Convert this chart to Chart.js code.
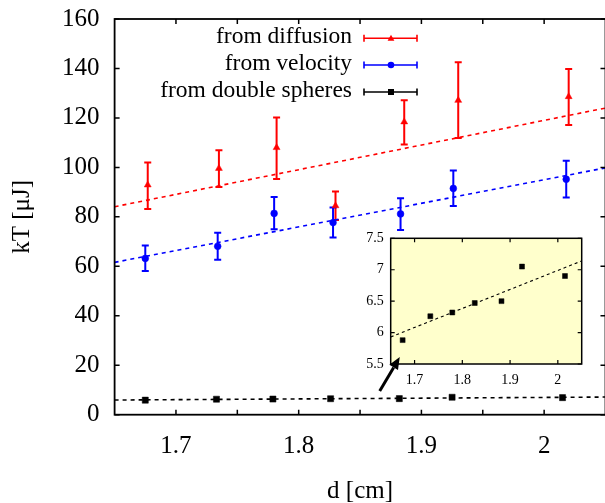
<!DOCTYPE html>
<html>
<head>
<meta charset="utf-8">
<script src="https://cdn.jsdelivr.net/npm/chart.js@4.4.0/dist/chart.umd.min.js"></script>
<style>
html, body { margin: 0; padding: 0; background: #fff; overflow: hidden; }
#wrap { position: relative; width: 605px; height: 503px; overflow: hidden; }
#main { position: absolute; left: 0; top: 0; }
#inset { position: absolute; left: 350px; top: 228px; }
</style>
</head>
<body>
<div id="wrap">
<canvas id="main" width="612" height="503"></canvas>
<canvas id="inset" width="240" height="165"></canvas>
</div>
<script>
// values
const seriesNames = ['from diffusion', 'from velocity', 'from double spheres'];

const dDiff = [1.677, 1.735, 1.782, 1.830, 1.886, 1.930, 2.020];
const kDiff = [92.9, 99.6, 108.0, 84.5, 118.4, 127.1, 128.6];
const kDiffLo = [83.2, 92.1, 95.3, 78.7, 109.3, 111.9, 117.1];
const kDiffHi = [102.0, 106.9, 120.2, 90.2, 127.1, 142.5, 139.8];

const dVel = [1.675, 1.734, 1.780, 1.828, 1.883, 1.926, 2.018];
const kVel = [63.2, 68.1, 81.4, 77.7, 81.2, 91.5, 95.2];
const kVelLo = [58.1, 62.7, 75.0, 71.6, 74.7, 84.4, 87.8];
const kVelHi = [68.4, 73.6, 88.0, 83.8, 87.5, 98.7, 102.7];

const dSph = [1.675, 1.733, 1.779, 1.826, 1.882, 1.925, 2.015];
const kSph = [5.88, 6.26, 6.32, 6.47, 6.50, 7.05, 6.90];

// fitted lines, end points at the plot edges
const fitX = [1.65, 2.05];
const fitDiff = [84.1, 124.0];
const fitVel = [61.6, 99.8];
const fitSph = [5.93, 7.14];

const xMajor = [1.7, 1.8, 1.9, 2.0];
const xMajorLabels = ['1.7', '1.8', '1.9', '2'];
const xMinor = [1.75, 1.85, 1.95];
const yTicks = [0, 20, 40, 60, 80, 100, 120, 140, 160];
const yTickLabels = ['0', '20', '40', '60', '80', '100', '120', '140', '160'];
const insetYTicks = [5.5, 6, 6.5, 7, 7.5];
const insetYLabels = ['5.5', '6', '6.5', '7', '7.5'];

// arrow in inset coordinates: tail, head
const arrowX = [1.627, 1.669];
const arrowY = [5.07, 5.61];

const RED = '#ff0000', BLUE = '#0000ff', BLACK = '#000000';
const SERIF = '"Liberation Serif", "Times New Roman", serif';
Chart.defaults.font.family = SERIF;
Chart.defaults.color = '#000';

function pts(xs, ys) {
	return xs.map((x, i) => ({ x: x, y: ys[i] }));
}

// --- helpers for drawing ---
function marker(ctx, style, x, y, color) {
	ctx.fillStyle = color;
	ctx.beginPath();
	if (style === 'triangle') {
		ctx.moveTo(x, y - 3.6);
		ctx.lineTo(x + 3.4, y + 2.4);
		ctx.lineTo(x - 3.4, y + 2.4);
		ctx.closePath();
	} else if (style === 'circle') {
		ctx.arc(x, y, 3.3, 0, Math.PI * 2);
	} else {
		ctx.rect(x - 3, y - 3, 6, 6);
	}
	ctx.fill();
}

function drawFrame(chart, xs, ys, len, width) {
	const { ctx, chartArea: a, scales: { x, y } } = chart;
	ctx.save();
	ctx.strokeStyle = BLACK;
	ctx.lineWidth = width;
	ctx.beginPath();
	xs.forEach(v => {
		const px = x.getPixelForValue(v);
		ctx.moveTo(px, a.bottom); ctx.lineTo(px, a.bottom - len);
		ctx.moveTo(px, a.top); ctx.lineTo(px, a.top + len);
	});
	ys.forEach(v => {
		const py = y.getPixelForValue(v);
		ctx.moveTo(a.left, py); ctx.lineTo(a.left + len, py);
		ctx.moveTo(a.right, py); ctx.lineTo(a.right - len, py);
	});
	ctx.stroke();
	ctx.lineWidth = width + 0.3;
	ctx.strokeRect(a.left, a.top, a.right - a.left, a.bottom - a.top);
	ctx.restore();
}

// fix the plot box: no extra room for the end labels
function fixY(width) {
	return s => { s.width = width; s.paddingTop = 0; s.paddingBottom = 0; };
}
function fixX(height) {
	return s => { s.height = height; s.paddingLeft = 0; s.paddingRight = 0; };
}

// error bars are kept on the dataset as lo/hi arrays
const errorBars = {
	id: 'errorBars',
	beforeDatasetsDraw(chart) {
		const { ctx, scales: { x, y } } = chart;
		ctx.save();
		chart.data.datasets.forEach(ds => {
			if (!ds.lo) return;
			ctx.strokeStyle = ds.borderColor;
			ctx.lineWidth = 2;
			ctx.beginPath();
			ds.data.forEach((p, i) => {
				const px = x.getPixelForValue(p.x);
				const y1 = y.getPixelForValue(ds.lo[i]);
				const y2 = y.getPixelForValue(ds.hi[i]);
				ctx.moveTo(px, y1); ctx.lineTo(px, y2);
				ctx.moveTo(px - 3.5, y1); ctx.lineTo(px + 3.5, y1);
				ctx.moveTo(px - 3.5, y2); ctx.lineTo(px + 3.5, y2);
			});
			ctx.stroke();
		});
		ctx.restore();
	}
};

const mainFrame = {
	id: 'mainFrame',
	afterDatasetsDraw(chart) {
		drawFrame(chart, xMajor.concat(xMinor), yTicks, 5, 1.5);
	}
};

// key in the upper part of the plot: text right aligned, sample on the right
const keyBox = {
	id: 'keyBox',
	afterDraw(chart) {
		const ctx = chart.ctx;
		const rows = [38.3, 65, 92];
		const styles = ['triangle', 'circle', 'rect'];
		const colors = [RED, BLUE, BLACK];
		ctx.save();
		ctx.font = '23.5px ' + SERIF;
		ctx.textAlign = 'right';
		ctx.textBaseline = 'middle';
		seriesNames.forEach((name, i) => {
			const yy = rows[i];
			ctx.fillStyle = '#000';
			ctx.fillText(name, 352, yy - 1);
			ctx.strokeStyle = colors[i];
			ctx.lineWidth = 1.6;
			ctx.beginPath();
			ctx.moveTo(364, yy); ctx.lineTo(417, yy);
			ctx.moveTo(364, yy - 3.5); ctx.lineTo(364, yy + 3.5);
			ctx.moveTo(417, yy - 3.5); ctx.lineTo(417, yy + 3.5);
			ctx.stroke();
			marker(ctx, styles[i], 391, yy, colors[i]);
		});
		ctx.restore();
	}
};

const fitStyle = { showLine: true, pointRadius: 0, borderWidth: 1.6, borderDash: [4, 4], fill: false };

new Chart(document.getElementById('main'), {
	type: 'scatter',
	data: {
		datasets: [
			{ label: seriesNames[0], data: pts(dDiff, kDiff), lo: kDiffLo, hi: kDiffHi,
				pointStyle: 'triangle', pointRadius: 4, borderWidth: 0.5,
				backgroundColor: RED, borderColor: RED },
			{ label: seriesNames[1], data: pts(dVel, kVel), lo: kVelLo, hi: kVelHi,
				pointStyle: 'circle', pointRadius: 3.4, borderWidth: 0.5,
				backgroundColor: BLUE, borderColor: BLUE },
			{ label: seriesNames[2], data: pts(dSph, kSph),
				pointStyle: 'rect', pointRadius: 4.3, borderWidth: 0.5,
				backgroundColor: BLACK, borderColor: BLACK },
			Object.assign({ data: pts(fitX, fitDiff), borderColor: RED }, fitStyle),
			Object.assign({ data: pts(fitX, fitVel), borderColor: BLUE }, fitStyle),
			Object.assign({ data: pts(fitX, fitSph), borderColor: BLACK }, fitStyle)
		]
	},
	options: {
		responsive: false,
		animation: false,
		layout: { padding: { top: 19, right: 6.5, left: 0, bottom: 0 } },
		plugins: { legend: { display: false }, tooltip: { enabled: false } },
		scales: {
			x: {
				type: 'linear', min: 1.65, max: 2.05,
				afterBuildTicks: s => { s.ticks = xMajor.map(v => ({ value: v })); },
				afterFit: fixX(88.3),
				grid: { display: false, drawTicks: false },
				border: { display: false },
				ticks: { callback: (v, i) => xMajorLabels[i], font: { size: 25 }, padding: 17,
					maxRotation: 0, autoSkip: false, color: '#000' },
				title: { display: true, text: 'd [cm]', font: { size: 25, lineHeight: 0.9 },
					padding: { top: 0, bottom: 0 }, color: '#000' }
			},
			y: {
				type: 'linear', min: 0, max: 160,
				afterBuildTicks: s => { s.ticks = yTicks.map(v => ({ value: v })); },
				afterFit: fixY(114.6),
				grid: { display: false, drawTicks: false },
				border: { display: false },
				ticks: { callback: (v, i) => yTickLabels[i], font: { size: 25 }, padding: 15, color: '#000' },
				title: { display: true, text: 'kT [μJ]', font: { size: 25 },
					padding: { top: 7.5, bottom: 0 }, color: '#000' }
			}
		}
	},
	plugins: [errorBars, mainFrame, keyBox]
});

// --- inset ---
const insetDeco = {
	id: 'insetDeco',
	beforeDraw(chart) {
		const { ctx, chartArea: a } = chart;
		ctx.save();
		ctx.fillStyle = '#ffffcc';
		ctx.fillRect(a.left, a.top, a.right - a.left, a.bottom - a.top);
		ctx.restore();
	},
	afterDraw(chart) {
		drawFrame(chart, xMajor, insetYTicks, 4, 1.2);
		// arrow pointing at the first point
		const { ctx, scales: { x, y } } = chart;
		const x1 = x.getPixelForValue(arrowX[0]), y1 = y.getPixelForValue(arrowY[0]);
		const x2 = x.getPixelForValue(arrowX[1]), y2 = y.getPixelForValue(arrowY[1]);
		const ang = Math.atan2(y2 - y1, x2 - x1);
		const hl = 12, hw = 5;
		const bx = x2 - Math.cos(ang) * hl, by = y2 - Math.sin(ang) * hl;
		ctx.save();
		ctx.strokeStyle = BLACK; ctx.fillStyle = BLACK;
		ctx.lineWidth = 3;
		ctx.beginPath();
		ctx.moveTo(x1, y1); ctx.lineTo(bx, by);
		ctx.stroke();
		ctx.beginPath();
		ctx.moveTo(x2, y2);
		ctx.lineTo(bx - Math.sin(ang) * hw, by + Math.cos(ang) * hw);
		ctx.lineTo(bx + Math.sin(ang) * hw, by - Math.cos(ang) * hw);
		ctx.closePath();
		ctx.fill();
		ctx.restore();
	}
};

new Chart(document.getElementById('inset'), {
	type: 'scatter',
	data: {
		datasets: [
			{ data: pts(dSph, kSph), pointStyle: 'rect', pointRadius: 3.5, borderWidth: 0.5,
				backgroundColor: BLACK, borderColor: BLACK },
			{ data: pts(fitX, fitSph), showLine: true, pointRadius: 0, borderWidth: 1.1,
				borderDash: [3, 3], borderColor: BLACK, fill: false }
		]
	},
	options: {
		responsive: false,
		animation: false,
		layout: { padding: { top: 10.3, right: 8.3, left: 0, bottom: 0 } },
		plugins: { legend: { display: false }, tooltip: { enabled: false } },
		scales: {
			x: {
				type: 'linear', min: 1.65, max: 2.05,
				afterBuildTicks: s => { s.ticks = xMajor.map(v => ({ value: v })); },
				afterFit: fixX(29),
				grid: { display: false, drawTicks: false },
				border: { display: false },
				ticks: { callback: (v, i) => xMajorLabels[i], font: { size: 14 }, padding: 8,
					maxRotation: 0, autoSkip: false, color: '#000' }
			},
			y: {
				type: 'linear', min: 5.5, max: 7.5,
				afterBuildTicks: s => { s.ticks = insetYTicks.map(v => ({ value: v })); },
				afterFit: fixY(40.7),
				grid: { display: false, drawTicks: false },
				border: { display: false },
				ticks: { callback: (v, i) => insetYLabels[i], font: { size: 14 }, padding: 7, color: '#000' }
			}
		}
	},
	plugins: [insetDeco]
});
</script>
</body>
</html>
